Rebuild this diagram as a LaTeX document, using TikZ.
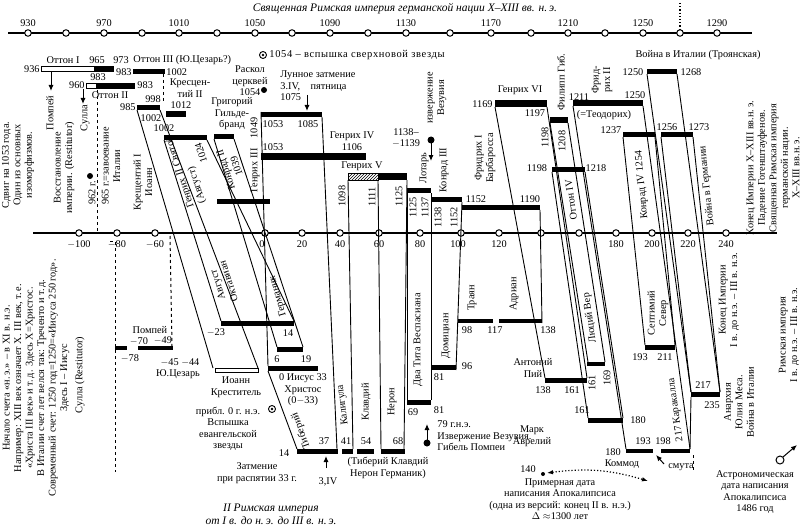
\documentclass[tikz,border=0pt]{standalone}
\usepackage{fontspec}
\setmainfont{Liberation Serif}
\usetikzlibrary{arrows.meta,patterns}
\tikzset{
  lbl/.style={inner sep=0pt,font=\fontsize{10.3}{11.5}\selectfont},
  vlbl/.style={lbl,rotate=90,align=center},
  slbl/.style={lbl,rotate=#1,align=center},
  dot/.style={circle,draw,line width=1pt,fill=white,inner sep=0pt,minimum size=6.5pt},
  bar/.style={fill=black},
  era/.style={line width=0.9pt},
  pin/.style={line width=1pt,-{Latex[length=6pt,width=5pt]}},
}
\begin{document}
\begin{tikzpicture}[x=1pt,y=-1pt,line width=0.9pt]
  \useasboundingbox (0,0) rectangle (800,532);
  % upper scale
  \node[lbl,font=\itshape\fontsize{11.5}{12}\selectfont] (ttl1) at (405,9)
    {Священная Римская империя германской нации X--XIII вв. н.\,э.};
  \draw[line width=1.2pt] (8,33) -- (752,33);
  \draw[dotted,line width=1.2pt] (680,3) -- (680,29);
  \foreach \x/\t in {28/930,104/970,179/1010,255/1050,330/1090,406/1130,
    491/1170,568/1210,643/1250,717/1290}
    \node[lbl] (ty\t) at (\x,23) {\t};
  \foreach \x in {28,66,104,142,179,217,255,292,330,368,406,450,491,531,
    568,605,643,680,717}
    \node[dot] (tc\x) at (\x,33) {};
  % lower scale
  \draw[line width=1.2pt] (33,233) -- (777,233);
  \foreach \x/\t in {79/$-$100,117/$-$80,155/$-$60,262/0,302/20,340/40,
    379/60,420/80,458/100,499/120,616/180,652/200,688/220,726/240}
    \node[lbl] (by\x) at (\x,244) {\t};
  \foreach \x in {79,117,155,265,302,340,379,420,461,499,541,579,616,652,
    688,726}
    \node[dot] (bc\x) at (\x,233) {};

  % bars, upper row
  \draw[line width=0.8pt,fill=white] (41,66) rectangle (113,71);
  \fill (94,66) rectangle (113,71);
  \draw[line width=0.8pt,fill=white] (86,83) rectangle (134,88);
  \fill (96,83) rectangle (134,88);
  \foreach \xa/\xb/\ya/\yb in {133/165/69/74, 137/160/105/110,
    166/186/111/117, 164/207/135/140, 214/234/134/139, 261/322/112/117,
    261/366/153/160, 378/407/173/180, 407/431/188/193, 432/462/197/202,
    462/540/205/210, 495/547/100/107, 550/568/117/123, 552/585/167/172,
    573/643/100/106, 623/655/132/137, 647/677/69/74, 661/693/132/137,
    217/270/199/204}
    \fill[bar] (\xa,\ya) rectangle (\xb,\yb);
  \draw[pattern=north east lines,line width=0.6pt] (348,173) rectangle (378,180);
  % bars, lower row
  \foreach \xa/\xb/\ya/\yb in {115/127/346/350, 138/173/346/350,
    221/294/321/326, 277/303/347/352, 268/318/366/371, 458/493/319/323,
    499/542/319/323, 431/456/365/370, 407/431/400/405, 545/587/378/383,
    587/605/362/366, 588/623/418/423, 626/653/449/453, 661/690/449/453,
    645/675/345/350, 691/720/392/397, 297/338/449/454, 342/353/449/454,
    357/374/449/454, 381/405/449/454}
    \fill[bar] (\xa,\ya) rectangle (\xb,\yb);
  \draw[line width=0.7pt] (215,368) rectangle (258,372);

  % era connectors
  \foreach \xa/\ya/\xb/\yb in {137/110/213/368, 160/110/258/368,
    164/140/221/321, 207/140/294/321, 214/139/277/347, 234/139/303/347,
    261/112/268/366, 268/371/297/449, 322/117/337/449,
    348/180/353/449, 378/180/381/449, 407/180/404/449, 407/193/407/400,
    431/193/431/400, 462/202/456/370, 540/210/542/323,
    495/107/545/378, 547/107/587/378, 550/123/588/362, 568/123/605/362,
    552/172/588/418, 585/172/623/418, 573/106/626/449, 643/106/690/449,
    623/137/645/345, 655/137/675/345, 647/74/691/392, 677/74/720/392,
    661/137/691/392, 693/137/720/392, 691/397/690/449}
    \draw[era] (\xa,\ya) -- (\xb,\yb);
  \draw[dashed,line width=1pt] (97,90) -- (97,232);
  \draw[dashed,line width=1pt] (163,74) -- (163,102);
  \draw[dashed,line width=1pt] (110,241) -- (115,241) -- (115,472);
  \draw[dashed,line width=1pt] (170,236) -- (172,346);
  \draw[dashed,line width=1pt] (693,455) -- (693,470);

  % upper labels
  \draw (263,55) circle (3.5);
  \fill (263,55) circle (1.3);
  \node[lbl,anchor=west,font=\fontsize{10.5}{12}\selectfont\addfontfeature{LetterSpace=6}] (nova) at (269,55) {1054 -- вспышка сверхновой звезды};
  \node[lbl] (troy) at (698,55) {Война в Италии (Троянская)};
  \node[lbl] (ot1) at (63,60) {Оттон I};
  \node[lbl] (y965) at (97,60) {965};
  \node[lbl] (y973) at (121,60) {973};
  \node[lbl,anchor=west] (ot3) at (133,60) {Оттон III (Ю.Цезарь?)};
  \node[lbl,anchor=east] (y936) at (40,69) {936};
  \node[lbl,anchor=east] (y983a) at (132,72) {983};
  \node[lbl,anchor=west] (y1002a) at (166,72) {1002};
  \node[lbl] (y983b) at (98,77) {983};
  \node[lbl,anchor=east] (y960) at (85,85) {960};
  \node[lbl,anchor=west] (y983c) at (137,85) {983};
  \node[lbl] (ot2) at (110,95) {Оттон II};
  \node[lbl,align=center] (kr2) at (190,88) {Кресцен-\\тий II};
  \node[lbl,anchor=east] (y985) at (136,107) {985};
  \node[lbl] (y998) at (153,99) {998};
  \node[lbl] (y1002b) at (151,118) {1002};
  \node[lbl] (y1012) at (181,105) {1012};
  \node[lbl] (y1002c) at (164,128) {1002};
  \node[vlbl] (pomp) at (50,113) {Помпей};
  \draw[pin] (51,72) -- (51,91);
  \node[vlbl] (sul) at (85,118) {Сулла};
  \draw[pin] (83,89) -- (83,104);
  \node[vlbl] (shift) at (18,165) {Сдвиг на 1053 года.\\Один из основных\\изоморфизмов.};
  \node[vlbl] (rest) at (64,168) {Восстановление\\империи. (Restitutor)};
  \fill (90,176) circle (3);
  \node[vlbl] (y962) at (92,193) {962 г.};
  \node[vlbl] (y965b) at (111,166) {965 г.=завоевание\\Италии};
  \node[vlbl] (kr1) at (143,182) {Крещентий I\\Иоанн};
  \node[slbl=108] (h2) at (180,172) {Генрих II Святой};
  \node[slbl=108] (aug0) at (197,185) {(Август)};
  \node[slbl=108] (y1024) at (201,153) {1024};
  \node[slbl=108] (k2) at (231,168) {Конрад II\\1039};
  \node[vlbl] (h3) at (255,155) {Генрих III\quad 1049};
  \node[lbl,align=center] (greg) at (232,114) {Григорий\\Гильде-\\бранд};
  \node[lbl,align=center] (schism) at (250,81) {Раскол\\церквей\\1054};
  \fill (264,90) circle (3);
  \node[lbl,align=left,anchor=west] (moon) at (280,86) {Лунное затмение\\3.IV,\quad пятница\\1075};
  \draw[pin] (307,95) -- (307,111);
  \node[lbl] (y1053a) at (273,124) {1053};
  \node[lbl] (y1085) at (308,124) {1085};
  \node[lbl] (y1053b) at (273,147) {1053};
  \node[lbl,align=center] (h4) at (352,141) {Генрих IV\\1106};
  \node[lbl,align=center] (y1138) at (406,138) {1138--\\$-$1139};
  \fill (431,140) circle (3.5);
  \draw[pin] (431,140) -- (431,161);
  \node[vlbl] (vesu) at (437,98) {извержение\\Везувия};
  \node[lbl] (h5) at (362,166) {Генрих V};
  \node[vlbl] (y1098) at (342,196) {1098};
  \node[vlbl] (y1111) at (372,197) {1111};
  \node[vlbl] (y1125a) at (399,196) {1125};
  \node[vlbl] (loth) at (424,168) {Лотарь};
  \node[vlbl] (y1125b) at (413,207) {1125};
  \node[vlbl] (y1137) at (425,207) {1137};
  \node[vlbl] (k3) at (444,170) {Конрад III};
  \node[vlbl] (y1138b) at (438,217) {1138};
  \node[vlbl] (y1152a) at (454,217) {1152};
  \node[lbl] (y1152b) at (476,199) {1152};
  \node[lbl] (y1190) at (530,199) {1190};
  \node[vlbl] (fr1) at (485,158) {Фридрих I\\Барбаросса};
  \node[lbl] (h6) at (520,90) {Генрих VI};
  \node[lbl,anchor=east] (y1169) at (493,104) {1169};
  \node[lbl] (y1197) at (535,113) {1197};
  \node[vlbl] (phil) at (561,82) {Филипп Гиб.};
  \node[vlbl] (y1198a) at (545,137) {1198};
  \node[vlbl] (y1208) at (562,141) {1208};
  \node[lbl] (y1198b) at (537,168) {1198};
  \node[lbl] (y1218) at (596,168) {1218};
  \node[slbl=98] (ot4) at (571,200) {Оттон IV};
  \node[lbl] (y1211) at (579,97) {1211};
  \node[vlbl] (fr2) at (602,80) {Фрид-\\рих II};
  \node[lbl] (y1250a) at (635,95) {1250};
  \node[lbl] (theo) at (604,115) {(=Теодорих)};
  \node[lbl] (y1250b) at (633,72) {1250};
  \node[lbl] (y1268) at (691,72) {1268};
  \node[lbl] (y1237) at (611,130) {1237};
  \node[lbl] (y1256) at (667,127) {1256};
  \node[lbl] (y1273) at (699,127) {1273};
  \node[slbl=95] (k4) at (642,185) {Конрад IV 1254};
  \node[slbl=96] (wger) at (707,186) {Война в Германии};
  \node[vlbl] (end1) at (773,168) {Конец Империи X--XIII вв.н.\,э.\\Падение Гогенштауфенов.\\Священная Римская империя\\германской нации.\\X--XIII вв.н.\,э.};

  % lower labels
  \node[vlbl] (note) at (36,378) {Начало счета «н.\,э.» -- в XI в. н.э.\\Например: XIII век означает X. III век, т.\,е.\\«Христа III век» и т.\,д. Здесь X=Христос.\\В Италии счет лет велся так: Треченто и т.\,д.\\Современный счет: 1250 год=1250=«Иисуса 250 год».\\Здесь I -- Иисус};
  \node[vlbl] (sul2) at (80,375) {Сулла (Restitutor)};
  \node[lbl] (pomp2) at (150,330) {Помпей};
  \node[lbl] (ym70) at (139,341) {$-$70};
  \node[lbl] (ym49) at (163,341) {$-$49};
  \node[lbl] (ym78) at (130,358) {$-$78};
  \node[lbl] (ym45) at (180,363) {$-$45 $-$44};
  \node[lbl] (caes) at (178,374) {Ю.Цезарь};
  \node[lbl,align=center] (john) at (236,387) {Иоанн\\Креститель};
  \node[slbl=108] (aug) at (223,283) {Август\\Октавиан};
  \node[lbl] (ym23) at (216,333) {$-$23};
  \node[lbl] (y14a) at (288,333) {14};
  \node[slbl=106] (germ) at (278,296) {Германик};
  \node[lbl] (y6) at (277,359) {6};
  \node[lbl] (y19) at (306,359) {19};
  \node[lbl,align=center] (jes) at (303,390) {0 Иисус 33\\Христос\\(0$-$33)};
  \node[lbl,align=center] (star) at (228,429) {прибл. 0 г. н.э.\\Вспышка\\евангельской\\звезды};
  \draw (272,409) circle (3.5);
  \fill (272,409) circle (1.3);
  \node[slbl=110] (tib) at (301,431) {Тиберий};
  \node[lbl] (y14b) at (284,453) {14};
  \node[lbl] (y37) at (324,441) {37};
  \node[lbl] (y41) at (346,441) {41};
  \node[lbl] (y54) at (366,441) {54};
  \node[lbl] (y68) at (398,441) {68};
  \node[slbl=97] (calig) at (343,405) {Калигула};
  \node[vlbl] (claud) at (366,402) {Клавдий};
  \node[vlbl] (nero) at (392,402) {Нерон};
  \node[lbl,align=center] (eclipse) at (257,473) {Затмение\\при распятии 33 г.};
  \draw[pin] (326,468) -- (326,456);
  \node[lbl] (y3iv) at (328,482) {3,IV};
  \node[lbl,align=center] (tcn) at (388,468) {(Тиберий Клавдий\\Нерон Германик)};
  \node[lbl,font=\itshape\fontsize{11.5}{13}\selectfont,align=center] (ttl2) at (271,514)
    {II Римская империя\\от I в. до н.\,э. до III в. н.\,э.};
  \node[vlbl] (tit) at (418,340) {Два Тита Веспасиана};
  \node[lbl] (y69) at (413,412) {69};
  \node[lbl] (y81a) at (439,377) {81};
  \node[lbl] (y81b) at (439,410) {81};
  \node[lbl] (y96) at (467,366) {96};
  \node[vlbl] (domi) at (446,336) {Домициан};
  \node[vlbl] (traj) at (472,298) {Траян};
  \node[vlbl] (hadr) at (514,294) {Адриан};
  \node[lbl] (y98) at (467,330) {98};
  \node[lbl] (y117) at (495,330) {117};
  \node[lbl] (y138a) at (548,330) {138};
  \fill (427,443) circle (3.5);
  \draw[pin] (427,443) -- (427,424);
  \node[lbl,align=left,anchor=west] (pomp3) at (437,436) {79 г.н.э.\\Извержение Везувия.\\Гибель Помпеи};
  \node[lbl,align=center] (anton) at (533,368) {Антоний\\Пий};
  \node[lbl] (y138b) at (543,390) {138};
  \node[lbl] (y161a) at (572,390) {161};
  \node[vlbl] (y161b) at (592,383) {161};
  \node[vlbl] (y169) at (607,378) {169};
  \node[slbl=98] (luc) at (590,318) {Люций Вер};
  \node[lbl] (y161c) at (582,410) {161};
  \node[lbl,align=center] (marc) at (532,436) {Марк\\Аврелий};
  \node[lbl] (y180a) at (638,420) {180};
  \node[lbl] (y180b) at (613,452) {180};
  \node[lbl] (y193a) at (643,441) {193};
  \node[lbl] (y198) at (663,441) {198};
  \node[lbl] (comm) at (622,464) {Коммод};
  \node[lbl] (smuta) at (681,467) {смута};
  \draw[pin] (664,464) -- (656,455);
  \node[slbl=98] (cara) at (676,410) {217 Каракалла};
  \node[vlbl] (sept) at (658,313) {Септимий\\Север};
  \node[lbl] (y193b) at (640,357) {193};
  \node[lbl] (y211) at (665,357) {211};
  \node[lbl] (y217) at (703,385) {217};
  \node[lbl] (y235) at (712,405) {235};
  \node[vlbl] (anar) at (739,402) {Анархия\\Юлия Меса.\\Война в Италии};
  \node[vlbl] (end2) at (729,300) {Конец Империи\\I в. до н.э. -- III в. н.э.};
  \node[vlbl] (rome) at (789,335) {Римская империя\\I в. до н.э. -- III в. н.э.};
  \node[lbl] (y140) at (528,469) {140};
  \fill (543,474) circle (2);
  \draw[dotted,line width=1.2pt,{Latex[length=6pt]}-{Latex[length=6pt]}]
    (547,473) to[bend left=12] (648,481);
  \node[lbl,align=center] (apoc) at (560,499) {Примерная дата\\написания Апокалипсиса\\(одна из версий: конец II в. н.э.)\\$\Delta\approx$1300 лет};
  \draw[line width=1pt] (780,460) circle (4);
  \draw[pin] (783,457) -- (797,445);
  \node[lbl,align=center] (astro) at (755,492) {Астрономическая\\дата написания\\Апокалипсиса\\1486 год};
\end{tikzpicture}
\end{document}
